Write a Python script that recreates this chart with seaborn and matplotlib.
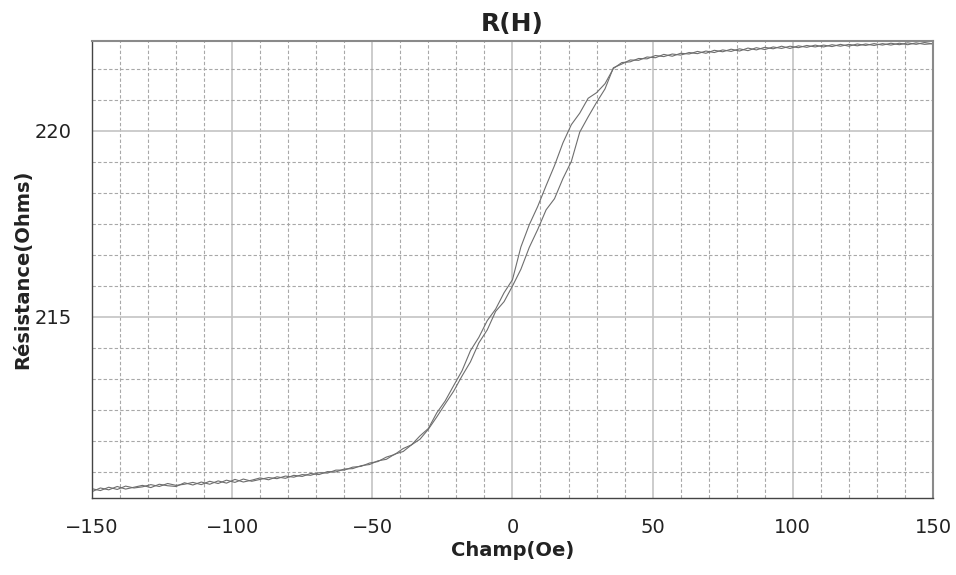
import pandas as pd
import numpy as np
import matplotlib.pyplot as plt
from matplotlib.ticker import MultipleLocator, AutoMinorLocator
import seaborn as sns

# field sweep (Oe)
champ = [-150, -147, -144, -141, -138, -135, -132, -129, -126, -123,
         -120, -117, -114, -111, -108, -105, -102, -99, -96, -93,
         -90, -87, -84, -81, -78, -75, -72, -69, -66, -63,
         -60, -57, -54, -51, -48, -45, -42, -39, -36, -33,
         -30, -27, -24, -21, -18, -15, -12, -9, -6, -3,
         0, 3, 6, 9, 12, 15, 18, 21, 24, 27,
         30, 33, 36, 39, 42, 45, 48, 51, 54, 57,
         60, 63, 66, 69, 72, 75, 78, 81, 84, 87,
         90, 93, 96, 99, 102, 105, 108, 111, 114, 117,
         120, 123, 126, 129, 132, 135, 138, 141, 144, 147,
         150]

# resistance, increasing field branch
r_montee = [210.30, 210.40, 210.35, 210.44, 210.37, 210.42, 210.47, 210.41, 210.50, 210.46,
            210.44, 210.54, 210.48, 210.56, 210.50, 210.59, 210.53, 210.63, 210.56, 210.61,
            210.67, 210.62, 210.70, 210.66, 210.74, 210.71, 210.79, 210.76, 210.84, 210.83,
            210.91, 210.92, 211.00, 211.03, 211.13, 211.17, 211.31, 211.38, 211.56, 211.71,
            211.98, 212.31, 212.66, 213.00, 213.41, 213.79, 214.30, 214.65, 215.15, 215.41,
            215.83, 216.28, 216.87, 217.35, 217.88, 218.18, 218.72, 219.18, 219.97, 220.38,
            220.77, 221.13, 221.70, 221.80, 221.91, 221.90, 221.99, 221.97, 222.06, 222.01,
            222.09, 222.07, 222.14, 222.09, 222.17, 222.13, 222.20, 222.15, 222.23, 222.18,
            222.25, 222.21, 222.28, 222.22, 222.29, 222.25, 222.31, 222.26, 222.32, 222.28,
            222.33, 222.29, 222.34, 222.30, 222.35, 222.31, 222.36, 222.32, 222.37, 222.33,
            222.35]

# resistance, decreasing field branch (same field points)
r_descente = [210.38, 210.33, 210.42, 210.36, 210.45, 210.40, 210.43, 210.49, 210.44, 210.52,
              210.47, 210.50, 210.55, 210.49, 210.58, 210.52, 210.61, 210.55, 210.64, 210.58,
              210.63, 210.68, 210.65, 210.72, 210.69, 210.76, 210.74, 210.81, 210.80, 210.88,
              210.88, 210.96, 210.98, 211.07, 211.11, 211.23, 211.30, 211.46, 211.56, 211.80,
              212.00, 212.42, 212.74, 213.15, 213.55, 214.09, 214.45, 214.90, 215.21, 215.65,
              216.00, 216.88, 217.48, 217.97, 218.53, 219.07, 219.68, 220.17, 220.48, 220.88,
              221.03, 221.27, 221.68, 221.84, 221.86, 221.95, 221.94, 222.03, 222.00, 222.07,
              222.04, 222.11, 222.08, 222.15, 222.11, 222.18, 222.14, 222.21, 222.16, 222.24,
              222.19, 222.26, 222.22, 222.28, 222.24, 222.30, 222.26, 222.31, 222.27, 222.33,
              222.28, 222.34, 222.30, 222.35, 222.31, 222.36, 222.32, 222.37, 222.33, 222.38,
              222.34]

df = pd.concat([
    pd.DataFrame({"H": champ, "R": r_montee, "sens": "montee"}),
    pd.DataFrame({"H": champ[::-1], "R": r_descente[::-1], "sens": "descente"}),
])

sns.set_style("white")
plt.rcParams["font.family"] = ["DejaVu Sans"]

fig = plt.figure(figsize=(9.56, 5.75), dpi=100)
ax = fig.add_axes([0.0962, 0.1339, 0.8797, 0.7948])

sns.lineplot(data=df, x="H", y="R", units="sens", estimator=None, sort=False,
             color="#6e6e6e", linewidth=0.8, ax=ax, legend=False)

ax.set_xlim(-150, 150)
ax.set_ylim(210.13, 222.42)
ax.xaxis.set_major_locator(MultipleLocator(50))
ax.xaxis.set_minor_locator(MultipleLocator(10))
ax.yaxis.set_major_locator(MultipleLocator(5))
ax.yaxis.set_minor_locator(AutoMinorLocator(6))

ax.grid(which="major", color="#c4c4c4", linestyle="-", linewidth=1.2)
ax.grid(which="minor", color="#a8a8a8", linestyle=(0, (3, 2)), linewidth=0.8)
ax.set_axisbelow(True)

ax.tick_params(which="major", direction="out", length=10.5, width=1,
               color="#444444", labelcolor="#222222", labelsize=14, pad=4)
ax.tick_params(which="minor", direction="out", length=7, width=1, color="#444444")

for side in ["left", "bottom"]:
    ax.spines[side].set_color("#444444")
    ax.spines[side].set_linewidth(1)
for side in ["top", "right"]:
    ax.spines[side].set_color("#8a8a8a")
    ax.spines[side].set_linewidth(1.5)

ax.set_title("R(H)", fontsize=18, fontweight="bold", color="#222222", pad=7)
ax.set_xlabel("Champ(Oe)", fontsize=14, fontweight="bold", color="#222222", labelpad=3)
ax.set_ylabel("Résistance(Ohms)", fontsize=14, fontweight="bold", color="#222222", labelpad=2)

fig.savefig("out.png", dpi=100)
